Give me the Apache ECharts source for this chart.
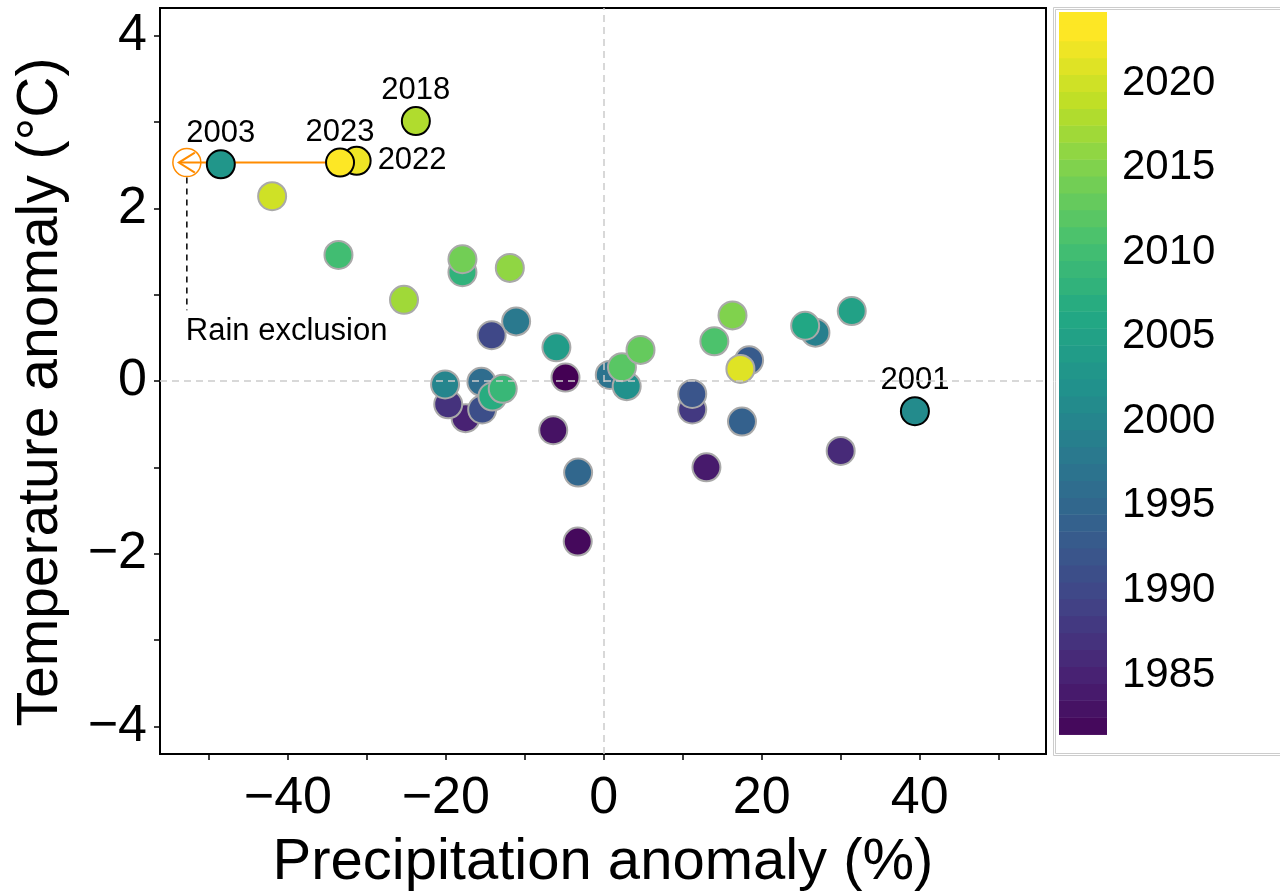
<!DOCTYPE html>
<html><head><meta charset="utf-8">
<script src="https://cdn.jsdelivr.net/npm/echarts@6/dist/echarts.min.js"></script>
<style>html,body{margin:0;padding:0;background:#fff}#chart{width:1280px;height:896px}</style>
</head><body><div id="chart"></div>
<script>
// ---- data ----
const years  = [1981, 1982, 1983, 1984, 1985, 1986, 1987, 1988, 1990, 1991, 1992, 1993, 1994, 1995, 1996, 1997, 1998, 1999, 2000, 2001, 2002, 2003, 2004, 2005, 2006, 2007, 2008, 2009, 2010, 2011, 2012, 2013, 2014, 2015, 2016, 2017, 2018, 2020, 2021, 2022, 2023];
const precip = [-4.85, -3.3, -6.4, 13.0, -17.5, 30.0, -19.7, 11.2, -14.2, -15.4, 11.2, 18.4, 17.5, -3.25, -15.5, 0.76, -11.1, 26.8, -20.1, 39.4, 2.9, -48.5, -6.0, 31.4, 25.5, -14.1, -17.9, -12.8, -33.6, 14.0, 2.3, 4.65, -17.9, 16.3, -11.9, -25.3, -23.8, -42.0, 17.3, -31.3, -33.4];
const temp   = [0.04, -1.86, -0.57, -1.0, -0.43, -0.81, -0.27, -0.33, 0.53, -0.33, -0.15, 0.24, -0.47, -1.06, -0.01, 0.07, 0.69, 0.56, -0.04, -0.35, -0.06, 2.51, 0.39, 0.81, 0.64, -0.18, 1.26, -0.09, 1.46, 0.46, 0.16, 0.36, 1.41, 0.76, 1.31, 0.94, 3.01, 2.14, 0.14, 2.55, 2.53];
const highlightYears = [2001, 2003, 2018, 2022, 2023];
const rightLabelYears = [2022];
const rainExclusion = { fromYear: 2023, precip: -52.8, temp: 2.53, lineEnd: 0.82, labelTemp: 0.57, label: 'Rain exclusion' };

const xTicks  = [-50, -40, -30, -20, -10, 0, 10, 20, 30, 40, 50];
const xLabels = [-40, -20, 0, 20, 40];
const yTicks  = [-4, -3, -2, -1, 0, 1, 2, 3, 4];
const yLabels = [-4, -2, 0, 2, 4];
const colorbarLabels = [1985, 1990, 1995, 2000, 2005, 2010, 2015, 2020];
const colorbarBins = [1981, 1982, 1983, 1984, 1985, 1986, 1987, 1988, 1989, 1990, 1991, 1992, 1993, 1994, 1995, 1996, 1997, 1998, 1999, 2000, 2001, 2002, 2003, 2004, 2005, 2006, 2007, 2008, 2009, 2010, 2011, 2012, 2013, 2014, 2015, 2016, 2017, 2018, 2019, 2020, 2021, 2022, 2023, 2024];
const viridis = ['#440154', '#482475', '#414487', '#355f8d', '#2a788e', '#21918c', '#22a884', '#44bf70', '#7ad151', '#bddf26', '#fde725'];

// ---- build ----
const FONT = '"Liberation Sans", Arial, Helvetica, sans-serif';
const minus = v => String(v).replace('-', '\u2212');
const pts = years.map((y, i) => [precip[i], temp[i], y]);
const normalPts = pts.filter(p => highlightYears.indexOf(p[2]) < 0);
const highPts = pts.filter(p => highlightYears.indexOf(p[2]) >= 0).map(p => ({
  value: p,
  label: { position: rightLabelYears.indexOf(p[2]) >= 0 ? 'right' : 'top', distance: rightLabelYears.indexOf(p[2]) >= 0 ? 6 : 0 }
}));
const fromIdx = years.indexOf(rainExclusion.fromYear);

const chart = echarts.init(document.getElementById('chart'), null, { renderer: 'canvas' });
chart.setOption({
  animation: false,
  backgroundColor: '#ffffff',
  textStyle: { fontFamily: FONT },
  grid: [
    { left: 160, right: 234, top: 8, bottom: 142, show: true, borderColor: '#000', borderWidth: 2, backgroundColor: 'transparent', containLabel: false, outerBoundsMode: 'none' },
    { left: 1059, right: 173, top: 12, bottom: 161, show: false, containLabel: false, outerBoundsMode: 'none' }
  ],
  xAxis: [
    { type: 'value', gridIndex: 0, min: -56.2, max: 56, position: 'bottom',
      name: 'Precipitation anomaly (%)', nameLocation: 'middle', nameGap: 80,
      nameTextStyle: { fontSize: 58, color: '#000', fontFamily: FONT },
      axisLine: { show: false, onZero: false },
      axisTick: { show: true, inside: false, customValues: xTicks, length: 6, lineStyle: { color: '#000', width: 1.5 } },
      axisLabel: { customValues: xLabels, formatter: minus, fontSize: 52, color: '#000', margin: 19, fontFamily: FONT },
      splitLine: { show: false } },
    { type: 'value', gridIndex: 1, min: 0, max: 1, show: false }
  ],
  yAxis: [
    { type: 'value', gridIndex: 0, min: -4.32, max: 4.32, position: 'left',
      name: 'Temperature anomaly (\u00b0C)', nameLocation: 'middle', nameGap: 90,
      nameTextStyle: { fontSize: 57, color: '#000', fontFamily: FONT, padding: [0, 22, 0, 0] },
      axisLine: { show: false, onZero: false },
      axisTick: { show: true, inside: false, customValues: yTicks, length: 6, lineStyle: { color: '#000', width: 1.5 } },
      axisLabel: { customValues: yLabels, formatter: minus, fontSize: 52, color: '#000', margin: 13, fontFamily: FONT },
      splitLine: { show: false } },
    { type: 'value', gridIndex: 1, min: 1981.45, max: 2024.2, position: 'right',
      axisLine: { show: false, onZero: false }, axisTick: { show: false }, splitLine: { show: false },
      axisLabel: { customValues: colorbarLabels, formatter: v => String(v), fontSize: 42, color: '#000', margin: 15, fontFamily: FONT } }
  ],
  visualMap: [{ type: 'continuous', show: false, min: 1981, max: 2023, dimension: 2, seriesIndex: [1, 2, 4], inRange: { color: viridis } }],
  graphic: [
    { type: 'rect', shape: { x: 1053.5, y: 7.5, width: 300, height: 748 }, style: { fill: 'none', stroke: '#cccccc', lineWidth: 1 }, silent: true },
    { type: 'rect', shape: { x: 1055.5, y: 9.5, width: 300, height: 744 }, style: { fill: 'none', stroke: '#cccccc', lineWidth: 1 }, silent: true }
  ],
  series: [
    { type: 'line', xAxisIndex: 0, yAxisIndex: 0, data: [], z: 0, silent: true,
      markLine: { silent: true, symbol: ['none', 'none'], label: { show: false },
        lineStyle: { color: '#cccccc', type: [7, 5], width: 1.5 },
        data: [{ xAxis: 0 }, { yAxis: 0 }] } },
    { type: 'scatter', xAxisIndex: 0, yAxisIndex: 0, z: 2, data: normalPts, symbol: 'circle', symbolSize: 28,
      itemStyle: { borderColor: '#a9a9a9', borderWidth: 2, opacity: 1 } },
    { type: 'scatter', xAxisIndex: 0, yAxisIndex: 0, z: 4, data: highPts, symbol: 'circle', symbolSize: 28,
      itemStyle: { borderColor: '#000', borderWidth: 2, opacity: 1 },
      label: { show: true, formatter: p => String(p.value[2]), fontSize: 31, color: '#000', fontFamily: FONT } },
    { type: 'custom', xAxisIndex: 0, yAxisIndex: 0, z: 3, silent: true,
      data: [[rainExclusion.precip, rainExclusion.temp]],
      renderItem: function (params, api) {
        const p0 = api.coord([rainExclusion.precip, rainExclusion.temp]);
        const p1 = api.coord([precip[fromIdx], temp[fromIdx]]);
        const pe = api.coord([rainExclusion.precip, rainExclusion.lineEnd]);
        const pl = api.coord([rainExclusion.precip, rainExclusion.labelTemp]);
        const orange = '#ff8c00';
        return { type: 'group', children: [
          { type: 'line', shape: { x1: p1[0], y1: p0[1], x2: p0[0] - 8, y2: p0[1] }, style: { stroke: orange, lineWidth: 2 } },
          { type: 'polyline', shape: { points: [[p0[0] + 8, p0[1] - 10], [p0[0] - 8, p0[1]], [p0[0] + 8, p0[1] + 10]] }, style: { stroke: orange, lineWidth: 2, fill: null } },
          { type: 'circle', shape: { cx: p0[0], cy: p0[1], r: 14 }, style: { stroke: orange, lineWidth: 1.5, fill: null } },
          { type: 'line', shape: { x1: p0[0], y1: p0[1] + 15, x2: pe[0], y2: pe[1] }, style: { stroke: '#000', lineWidth: 1.5, lineDash: [6, 5] } },
          { type: 'text', style: { text: rainExclusion.label, x: pl[0] - 1, y: pl[1], fill: '#000', font: '31px ' + FONT, align: 'left', verticalAlign: 'middle' } }
        ] };
      } },
    { type: 'custom', xAxisIndex: 1, yAxisIndex: 1, z: 2, silent: true, clip: true,
      data: colorbarBins.map(y => [0, y, y]),
      renderItem: function (params, api) {
        const y = api.value(1);
        const a = api.coord([0, y + 0.5]);
        const b = api.coord([1, y - 0.5]);
        const cs = params.coordSys;
        const top = Math.max(a[1], cs.y), bot = Math.min(b[1], cs.y + cs.height);
        if (bot <= top) return null;
        return { type: 'rect', shape: { x: a[0], y: top, width: b[0] - a[0], height: bot - top + 0.5 }, style: { fill: api.visual('color') } };
      } }
  ]
});
</script></body></html>
